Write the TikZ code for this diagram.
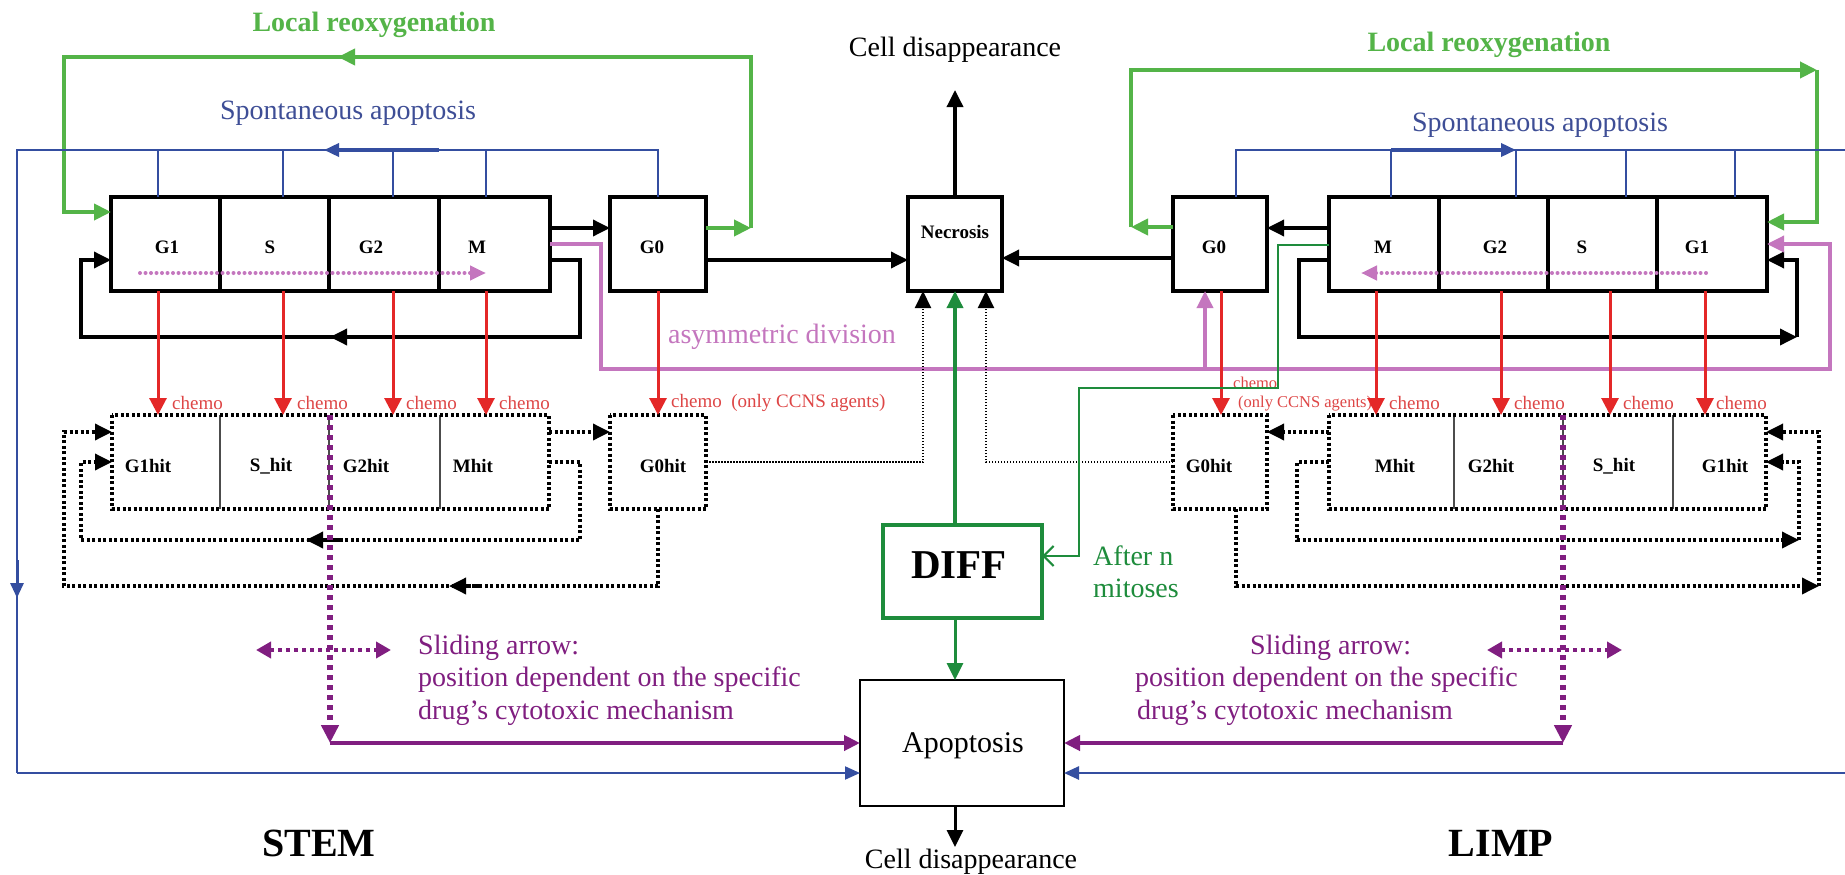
\documentclass[tikz,border=0pt]{standalone}
\usepackage{fontspec}
\setmainfont{Liberation Serif}
\usetikzlibrary{arrows.meta,calc}
\definecolor{lgr}{RGB}{84,180,72}
\definecolor{dgr}{RGB}{30,140,60}
\definecolor{blu}{RGB}{52,78,160}
\definecolor{spblue}{RGB}{62,78,150}
\definecolor{rd}{RGB}{228,40,40}
\definecolor{rdtxt}{RGB}{222,70,70}
\definecolor{pnk}{RGB}{196,118,190}
\definecolor{prp}{RGB}{128,30,128}
\tikzset{
  cellbox/.style={draw=black,line width=3.5pt,minimum height=94pt,inner sep=0pt,outer sep=0pt},
  hitcell/.style={minimum height=94pt,inner sep=0pt,outer sep=0pt},
  hitbd/.style={draw=black,line width=3.5pt,dash pattern=on 3pt off 2.5pt},
  thindiv/.style={draw=black!70,line width=1.2pt},
  lab/.style={inner sep=0pt,font=\fontsize{19}{22}\selectfont\bfseries},
  tt28/.style={inner sep=0pt,font=\fontsize{28}{32}\selectfont},
  chemo/.style={inner sep=0pt,anchor=west,text=rdtxt,font=\fontsize{19}{22}\selectfont},
  lgl/.style={draw=lgr,line width=4pt},
  bll/.style={draw=blu,line width=2pt},
  bk/.style={draw=black,line width=3.5pt},
  pkdot/.style={draw=pnk,line width=4pt,dash pattern=on 0pt off 5.5pt,line cap=round},
  pkl/.style={draw=pnk,line width=3.5pt},
  rdl/.style={draw=rd,line width=3pt},
  kdot/.style={draw=black,line width=3.5pt,dash pattern=on 3pt off 2.5pt},
  kthin/.style={draw=black,line width=2pt,dash pattern=on 1.5pt off 1.5pt},
  prdot/.style={draw=prp,line width=5.5pt,dash pattern=on 5pt off 5pt},
  prl/.style={draw=prp,line width=4.5pt},
  dgl/.style={draw=dgr,line width=3.5pt},
  dgthin/.style={draw=dgr,line width=2.2pt},
  ak/.style={-{Triangle[length=17pt,width=16pt]}},
  akb/.style={-{Triangle[length=15pt,width=13pt]}},
  akr/.style={-{Triangle[length=17pt,width=17pt]}},
}
\begin{document}
\begin{tikzpicture}[x=1pt,y=-1pt]
\fill[white] (0,0) rectangle (1845,875);
\useasboundingbox (0,0) rectangle (1845,875);

% ---------- cycle boxes ----------
\node[cellbox,minimum width=109pt] (LG1) at (165.5,244) {};
\node[cellbox,minimum width=109pt] (LS) at (274.5,244) {};
\node[cellbox,minimum width=110pt] (LG2) at (384,244) {};
\node[cellbox,minimum width=111pt] (LM) at (494.5,244) {};
\node[cellbox,minimum width=96pt] (LG0) at (658,244) {};
\node[cellbox,minimum width=94pt] (NEC) at (955,244) {};
\node[cellbox,minimum width=94pt] (RG0) at (1220,244) {};
\node[cellbox,minimum width=110pt] (RM) at (1384,244) {};
\node[cellbox,minimum width=109pt] (RG2) at (1493.5,244) {};
\node[cellbox,minimum width=109pt] (RS) at (1602.5,244) {};
\node[cellbox,minimum width=110pt] (RG1) at (1712,244) {};

\node[lab] (tLG1) at (167,247) {G1};
\node[lab] (tLS) at (270,247) {S};
\node[lab] (tLG2) at (371,247) {G2};
\node[lab] (tLM) at (477,247) {M};
\node[lab] (tLG0) at (652,247) {G0};
\node[lab] (tNEC) at (955,232) {Necrosis};
\node[lab] (tRG0) at (1214,247) {G0};
\node[lab] (tRM) at (1383,247) {M};
\node[lab] (tRG2) at (1495,247) {G2};
\node[lab] (tRS) at (1582,247) {S};
\node[lab] (tRG1) at (1697,247) {G1};

% ---------- hit boxes ----------
\node[hitcell,minimum width=108pt] (LG1h) at (166,462) {};
\node[hitcell,minimum width=109pt] (LSh) at (274.5,462) {};
\node[hitcell,minimum width=111pt] (LG2h) at (384.5,462) {};
\node[hitcell,minimum width=109pt] (LMh) at (494.5,462) {};
\node[hitcell,minimum width=96pt] (LG0h) at (658,462) {};
\node[hitcell,minimum width=94pt] (RG0h) at (1220,462) {};
\node[hitcell,minimum width=125pt] (RMh) at (1391.5,462) {};
\node[hitcell,minimum width=109pt] (RG2h) at (1508.5,462) {};
\node[hitcell,minimum width=110pt] (RSh) at (1618,462) {};
\node[hitcell,minimum width=93pt] (RG1h) at (1719.5,462) {};

\draw[thindiv] (LG1h.north east) -- (LG1h.south east);
\draw[thindiv] (LSh.north east) -- (LSh.south east);
\draw[thindiv] (LG2h.north east) -- (LG2h.south east);
\draw[thindiv] (RMh.north east) -- (RMh.south east);
\draw[thindiv] (RG2h.north east) -- (RG2h.south east);
\draw[thindiv] (RSh.north east) -- (RSh.south east);
\draw[hitbd] (LG1h.north west) rectangle (LMh.south east);
\draw[hitbd] (LG0h.north west) rectangle (LG0h.south east);
\draw[hitbd] (RG0h.north west) rectangle (RG0h.south east);
\draw[hitbd] (RMh.north west) rectangle (RG1h.south east);

\node[lab] (tLG1h) at (148,466) {G1hit};
\node[lab] (tLSh) at (271,466) {S\_hit};
\node[lab] (tLG2h) at (366,466) {G2hit};
\node[lab] (tLMh) at (473,466) {Mhit};
\node[lab] (tLG0h) at (663,466) {G0hit};
\node[lab] (tRG0h) at (1209,466) {G0hit};
\node[lab] (tRMh) at (1395,466) {Mhit};
\node[lab] (tRG2h) at (1491,466) {G2hit};
\node[lab] (tRSh) at (1614,466) {S\_hit};
\node[lab] (tRG1h) at (1725,466) {G1hit};

% ---------- DIFF and Apoptosis ----------
\node[draw=dgr,line width=3.5pt,minimum width=159pt,minimum height=93pt,inner sep=0pt,outer sep=0pt] (DIFF) at (962.5,571.5) {};
\node[inner sep=0pt,font=\fontsize{41}{46}\selectfont\bfseries] (tDIFF) at (959,565) {DIFF};
\node[draw=black,line width=2.2pt,minimum width=204pt,minimum height=126pt,inner sep=0pt,outer sep=0pt] (APO) at (962,743) {};
\node[inner sep=0pt,font=\fontsize{30}{34}\selectfont] (tAPO) at (963,746) {Apoptosis};

% ---------- texts ----------
\node[inner sep=0pt,text=lgr,font=\fontsize{28}{32}\selectfont\bfseries] (tLR1) at (374,25) {Local reoxygenation};
\node[inner sep=0pt,text=lgr,font=\fontsize{28}{32}\selectfont\bfseries] (tLR2) at (1489,45) {Local reoxygenation};
\node[tt28,text=spblue] (tSA1) at (348,113) {Spontaneous apoptosis};
\node[tt28,text=spblue] (tSA2) at (1540,125) {Spontaneous apoptosis};
\node[tt28] (tCD1) at (955,50) {Cell disappearance};
\node[tt28] (tCD2) at (971,862) {Cell disappearance};
\node[tt28,text=pnk] (tAD) at (782,337) {asymmetric division};
\node[tt28,text=dgr,anchor=west] (tAN1) at (1093,556) {After n};
\node[tt28,text=dgr,anchor=west] (tAN2) at (1093,588) {mitoses};
\node[tt28,text=prp,anchor=west] (tSL1) at (418,648) {Sliding arrow:};
\node[tt28,text=prp,anchor=west] (tSL2) at (418,680) {position dependent on the specific};
\node[tt28,text=prp,anchor=west] (tSL3) at (418,713) {drug’s cytotoxic mechanism};
\node[tt28,text=prp,anchor=west] (tSR1) at (1250,648) {Sliding arrow:};
\node[tt28,text=prp,anchor=west] (tSR2) at (1135,680) {position dependent on the specific};
\node[tt28,text=prp,anchor=west] (tSR3) at (1137,713) {drug’s cytotoxic mechanism};
\node[inner sep=0pt,font=\fontsize{40}{44}\selectfont\bfseries] (tSTEM) at (319,843) {STEM};
\node[inner sep=0pt,font=\fontsize{40}{44}\selectfont\bfseries] (tLIMP) at (1501,843) {LIMP};

\node[chemo] (c1) at (172,403) {chemo};
\node[chemo] (c2) at (297,403) {chemo};
\node[chemo] (c3) at (406,403) {chemo};
\node[chemo] (c4) at (499,403) {chemo};
\node[chemo] (c5) at (671,403) {chemo\ \ (only CCNS agents)};
\node[chemo,font=\fontsize{16.5}{19}\selectfont] (c6) at (1233,383) {chemo};
\node[chemo,font=\fontsize{16.5}{19}\selectfont] (c7) at (1238,404) {(only CCNS agents)};
\node[chemo] (c8) at (1389,403) {chemo};
\node[chemo] (c9) at (1514,403) {chemo};
\node[chemo] (c10) at (1623,403) {chemo};
\node[chemo] (c11) at (1716,403) {chemo};

% ---------- green reoxygenation ----------
\coordinate (gl1) at (751,228);
\coordinate (gl2) at (751,57);
\coordinate (gl3) at (64,57);
\coordinate (gl4) at (64,212);
\draw[lgl,ak] (LG0.east |- gl1) -- (gl1);
\draw[lgl,ak] (gl1) -- (gl2) -- (gl3) -- (gl4) -- (LG1.west |- gl4);
\draw[lgl,ak] (420,57) -- (338,57);
\coordinate (gr1) at (1131,227);
\coordinate (gr2) at (1131,70);
\coordinate (gr3) at (1817,70);
\coordinate (gr4) at (1817,222);
\draw[lgl,ak] (RG0.west |- gr1) -- (gr1);
\draw[lgl,ak] (gr1) -- (gr2) -- (gr3);
\draw[lgl,ak] (gr3) -- (gr4) -- (RG1.east |- gr4);

% ---------- blue spontaneous apoptosis ----------
\draw[bll] (LG0.north) -- (658,150) -- (17,150) -- (17,773);
\draw[bll,akb] (17,773) -- (APO.west |- 0,773);
\draw[bll] (158,150) -- (158,0 |- LG1.north);
\draw[bll] (283,150) -- (283,0 |- LS.north);
\draw[bll] (393,150) -- (393,0 |- LG2.north);
\draw[bll] (486,150) -- (486,0 |- LM.north);
\draw[bll,line width=3.5pt,akb] (439,150) -- (324,150);
\draw[bll,line width=3pt,akb] (17,560) -- (17,598);
\draw[bll] (1236,0 |- RG0.north) -- (1236,150) -- (1845,150);
\draw[bll] (1391,150) -- (1391,0 |- RM.north);
\draw[bll] (1516,150) -- (1516,0 |- RG2.north);
\draw[bll] (1626,150) -- (1626,0 |- RS.north);
\draw[bll] (1735,150) -- (1735,0 |- RG1.north);
\draw[bll,line width=3.5pt,akb] (1391,150) -- (1516,150);
\draw[bll,line width=2.5pt,akb] (1845,773) -- (APO.east |- 0,773);

% ---------- black transitions ----------
\draw[bk,ak] (LM.east |- 0,228) -- (LG0.west |- 0,228);
\draw[bk,ak] (LG0.east |- 0,260) -- (NEC.west |- 0,260);
\draw[bk,ak] (RG0.west |- 0,258) -- (NEC.east |- 0,258);
\draw[bk,ak] (RM.west |- 0,228) -- (RG0.east |- 0,228);
\draw[bk,ak] (NEC.north) -- (955,90);
\draw[bk,ak] (LM.east |- 0,260) -- (580,260) -- (580,337) -- (81,337) -- (81,260) -- (LG1.west |- 0,260);
\draw[bk,ak] (360,337) -- (330,337);
\draw[bk,ak] (RM.west |- 0,260) -- (1299,260) -- (1299,337) -- (1797,337);
\draw[bk,ak] (1797,337) -- (1797,260) -- (RG1.east |- 0,260);
\draw[bk,line width=3pt,ak] (955,0 |- APO.south) -- (955,847);

% ---------- pink ----------
\draw[pkdot,-{Triangle[length=16pt,width=14pt]}] (140,273) -- (486,273);
\draw[pkdot,-{Triangle[length=16pt,width=14pt]}] (1706,273) -- (1361,273);
\draw[pkl,ak] (LM.east) -- (601,244) -- (601,369) -- (1830,369) -- (1830,244) -- (RG1.east);
\draw[pkl,ak] (1205,369) -- (1205,0 |- RG0.south);

% ---------- red chemo ----------
\draw[rdl,akr] (158,0 |- LG1.south) -- (158,0 |- LG1h.north);
\draw[rdl,akr] (283,0 |- LS.south) -- (283,0 |- LSh.north);
\draw[rdl,akr] (393,0 |- LG2.south) -- (393,0 |- LG2h.north);
\draw[rdl,akr] (486,0 |- LM.south) -- (486,0 |- LMh.north);
\draw[rdl,akr] (LG0.south) -- (LG0h.north);
\draw[rdl,akr] (1221,0 |- RG0.south) -- (1221,0 |- RG0h.north);
\draw[rdl,akr] (1376,0 |- RM.south) -- (1376,0 |- RMh.north);
\draw[rdl,akr] (1501,0 |- RG2.south) -- (1501,0 |- RG2h.north);
\draw[rdl,akr] (1610,0 |- RS.south) -- (1610,0 |- RSh.north);
\draw[rdl,akr] (1705,0 |- RG1.south) -- (1705,0 |- RG1h.north);

% ---------- dotted hit connectors ----------
\draw[kdot,ak] (LMh.east |- 0,432) -- (LG0h.west |- 0,432);
\draw[kdot,ak] (LMh.east) -- (580,462) -- (580,540) -- (81,540) -- (81,462) -- (LG1h.west);
\draw[kdot,ak] (340,540) -- (306,540);
\draw[kdot,ak] (LG0h.south) -- (658,586) -- (64,586) -- (64,432) -- (LG1h.west |- 0,432);
\draw[kdot,ak] (480,586) -- (449,586);
\draw[kthin,ak] (LG0h.east) -- (923,462) -- (923,0 |- NEC.south);
\draw[kthin,ak] (RG0h.west) -- (986,462) -- (986,0 |- NEC.south);
\draw[kdot,ak] (RMh.west |- 0,432) -- (RG0h.east |- 0,432);
\draw[kdot,ak] (RMh.west) -- (1297,462) -- (1297,540) -- (1799,540);
\draw[kdot,ak] (1799,540) -- (1799,462) -- (RG1h.east);
\draw[kdot,ak] (1236,0 |- RG0h.south) -- (1236,586) -- (1819,586);
\draw[kdot,ak] (1819,586) -- (1819,432) -- (RG1h.east |- 0,432);

% ---------- purple sliding arrows ----------
\draw[prdot,-{Triangle[length=18pt,width=17pt]}] (330,0 |- LG2h.north) -- (330,743);
\draw[prl,-{Triangle[length=16pt,width=15pt]}] (330,743) -- (APO.west |- 0,743);
\draw[prdot,-{Triangle[length=18pt,width=17pt]}] (1563,0 |- RSh.north) -- (1563,743);
\draw[prl,-{Triangle[length=16pt,width=15pt]}] (1563,743) -- (APO.east |- 0,743);
\draw[draw=prp,line width=4.5pt,dash pattern=on 4pt off 4pt,{Triangle[length=15pt,width=16pt]}-{Triangle[length=15pt,width=16pt]}] (256,650) -- (391,650);
\draw[draw=prp,line width=4.5pt,dash pattern=on 4pt off 4pt,{Triangle[length=15pt,width=16pt]}-{Triangle[length=15pt,width=16pt]}] (1487,650) -- (1622,650);

% ---------- green differentiation ----------
\draw[dgl,ak] (955,0 |- DIFF.north) -- (955,0 |- NEC.south);
\draw[dgl,line width=3pt,ak] (955,0 |- DIFF.south) -- (955,0 |- APO.north);
\draw[dgthin,-{Straight Barb[length=10pt,width=20pt]}] (RM.west |- 0,245) -- (1278,245) -- (1278,388) -- (1079,388) -- (1079,556) -- (DIFF.east |- 0,556);
\end{tikzpicture}
\end{document}
